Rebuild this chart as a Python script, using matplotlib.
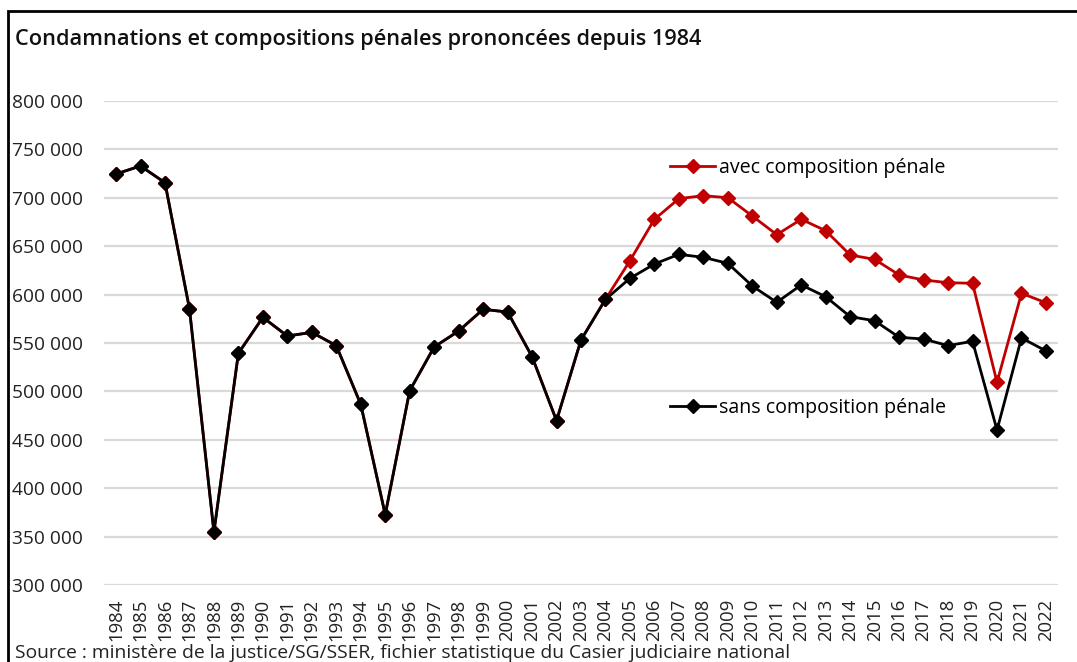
import matplotlib.pyplot as plt
from matplotlib.lines import Line2D
from matplotlib.patches import Rectangle
from matplotlib.ticker import FuncFormatter

plt.rcParams['font.family'] = ['Open Sans', 'DejaVu Sans']

years = list(range(1984, 2023))

# sans composition pénale
sans = [724600, 732900, 715600, 585400, 354800, 539400, 576500, 557200, 561000, 547300,
        486700, 372700, 500700, 545900, 562400, 584800, 582000, 535900, 469800, 553100,
        595100, 616800, 631600, 641600, 638500, 632300, 608900, 592000, 610000, 597800,
        577200, 573000, 555900, 554100, 547300, 551800, 460100, 555200, 541800]

# avec composition pénale
avec = [724600, 732900, 715600, 585400, 354800, 539400, 576500, 557200, 561000, 547300,
        486700, 372700, 500700, 545900, 562400, 584800, 582000, 535900, 469800, 553100,
        595100, 635000, 677800, 699100, 702200, 700100, 681200, 661900, 677800, 666000,
        640900, 636400, 620300, 615100, 612300, 611700, 509400, 601300, 591600]

W, H = 1077, 662
fig = plt.figure(figsize=(W / 100, H / 100), dpi=100)
ax = fig.add_axes([103.8 / W, 1 - 585 / H, (1058.2 - 103.8) / W, (585 - 101) / H])

red = '#c00000'
ax.plot(years, avec, color=red, lw=2.0, marker='D', ms=7, zorder=3)
ax.plot(years, sans, color='black', lw=2.0, marker='D', ms=7, zorder=4)

ax.set_xlim(1983.5, 2022.5)
ax.set_ylim(300000, 800000)
ax.set_yticks(range(300000, 800001, 50000))
ax.yaxis.set_major_formatter(FuncFormatter(lambda v, p: f'{int(v):,}'.replace(',', ' ')))
ax.set_xticks(years)
ax.set_xticklabels([str(y) for y in years], rotation=90, fontsize=13.3, color='#222222')
ax.tick_params(axis='y', labelsize=13.8, length=0, pad=15, labelcolor='#222222')
ax.tick_params(axis='x', length=0, pad=10)
ax.grid(axis='y', color='#d9d9d9', lw=1.6)
ax.set_axisbelow(True)
for s in ax.spines.values():
    s.set_visible(False)

# legends
h_avec = Line2D([], [], color=red, lw=2.0, marker='D', ms=7)
h_sans = Line2D([], [], color='black', lw=2.0, marker='D', ms=7)
leg1 = ax.legend([h_avec], ['avec composition pénale'], loc='center left',
                 bbox_to_anchor=(670 / W, 1 - 168 / H), bbox_transform=fig.transFigure,
                 frameon=False, fontsize=14.1, handlelength=2.3, handletextpad=0.2,
                 borderpad=0, borderaxespad=0)
ax.add_artist(leg1)
ax.legend([h_sans], ['sans composition pénale'], loc='center left',
          bbox_to_anchor=(670 / W, 1 - 408 / H), bbox_transform=fig.transFigure,
          frameon=False, fontsize=14.1, handlelength=2.3, handletextpad=0.2,
          borderpad=0, borderaxespad=0)

fig.text(15 / W, 1 - 40 / H, 'Condamnations et compositions pénales prononcées depuis 1984',
         fontsize=15.7, fontweight='semibold', va='center', ha='left', color='#111111')
fig.text(15 / W, 1 - 644 / H,
         'Source : ministère de la justice/SG/SSER, fichier statistique du Casier judiciaire national',
         fontsize=13.9, va='top', ha='left', color='#222222')

# frame around the chart
fig.patches.append(Rectangle((8 / W, -0.1), 1.2, 1 - 11 / H + 0.1, transform=fig.transFigure,
                             fill=False, edgecolor='black', lw=2))

fig.savefig('out.png', dpi=100)
